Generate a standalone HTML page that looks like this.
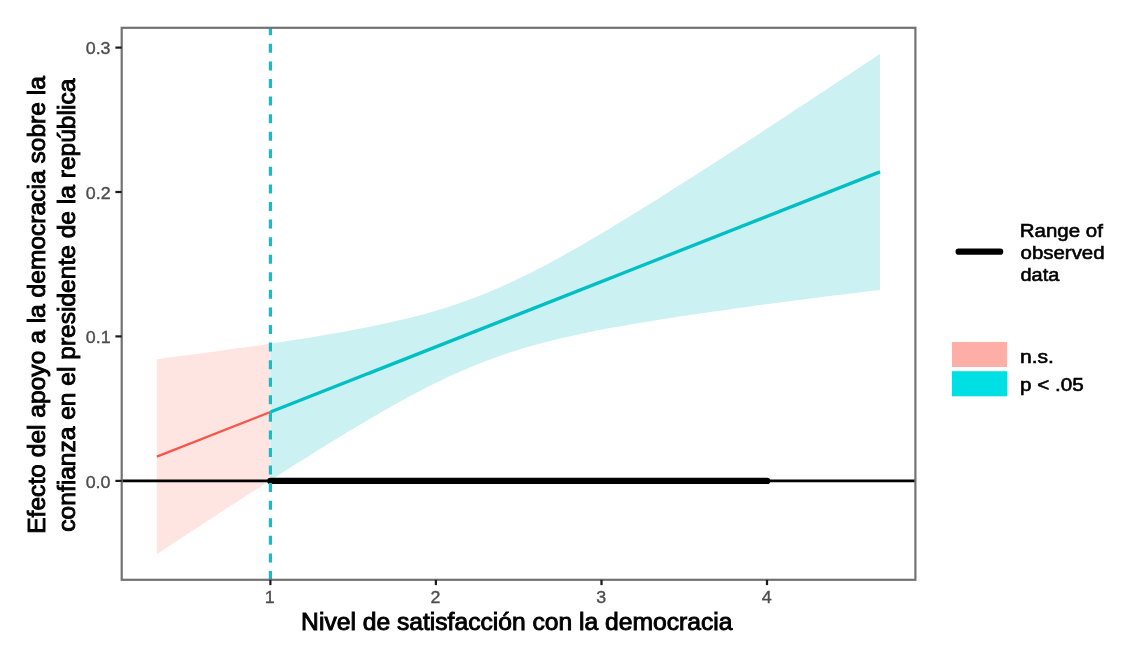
<!DOCTYPE html>
<html><head><meta charset="utf-8"><title>Plot</title>
<style>html,body{margin:0;padding:0;background:#fff;}body{width:1134px;height:663px;position:relative;overflow:hidden;font-family:"Liberation Sans",sans-serif}</style></head>
<body>
<svg width="1134" height="663" viewBox="0 0 1134 663" style="position:absolute;left:0;top:0;font-family:'Liberation Sans',sans-serif">
<defs><filter id="soft" filterUnits="userSpaceOnUse" x="0" y="0" width="1134" height="663"><feGaussianBlur stdDeviation="0.45"/></filter></defs>
<rect width="1134" height="663" fill="#fff"/>
<g filter="url(#soft)">
<path d="M156.8,359.2 L162.8,358.4 L168.8,357.6 L174.7,356.8 L180.7,356.1 L186.7,355.3 L192.7,354.5 L198.7,353.7 L204.6,352.9 L210.6,352.1 L216.6,351.3 L222.6,350.5 L228.5,349.6 L234.5,348.8 L240.5,348.0 L246.5,347.1 L252.5,346.3 L258.4,345.4 L264.4,344.5 L270.4,343.6 L270.4,480.3 L264.4,484.1 L258.4,487.9 L252.5,491.8 L246.5,495.6 L240.5,499.5 L234.5,503.4 L228.5,507.3 L222.6,511.1 L216.6,515.0 L210.6,518.9 L204.6,522.8 L198.7,526.7 L192.7,530.6 L186.7,534.6 L180.7,538.5 L174.7,542.4 L168.8,546.3 L162.8,550.3 L156.8,554.2Z" fill="#fee5e2"/>
<path d="M270.4,343.6 L278.1,342.5 L285.8,341.3 L293.5,340.1 L301.3,338.9 L309.0,337.7 L316.7,336.4 L324.4,335.1 L332.1,333.8 L339.8,332.4 L347.6,331.0 L355.3,329.6 L363.0,328.1 L370.7,326.6 L378.4,325.0 L386.1,323.3 L393.9,321.6 L401.6,319.8 L409.3,317.9 L417.0,315.9 L424.7,313.9 L432.4,311.7 L440.2,309.4 L447.9,307.0 L455.6,304.5 L463.3,301.8 L471.0,299.0 L478.7,296.1 L486.5,293.0 L494.2,289.8 L501.9,286.4 L509.6,282.9 L517.3,279.3 L525.0,275.5 L532.8,271.7 L540.5,267.7 L548.2,263.7 L555.9,259.5 L563.6,255.2 L571.3,250.9 L579.1,246.5 L586.8,242.1 L594.5,237.6 L602.2,233.0 L609.9,228.4 L617.6,223.7 L625.4,219.0 L633.1,214.3 L640.8,209.5 L648.5,204.7 L656.2,199.9 L663.9,195.0 L671.7,190.1 L679.4,185.2 L687.1,180.3 L694.8,175.4 L702.5,170.4 L710.2,165.5 L718.0,160.5 L725.7,155.5 L733.4,150.5 L741.1,145.5 L748.8,140.4 L756.5,135.4 L764.3,130.3 L772.0,125.3 L779.7,120.2 L787.4,115.2 L795.1,110.1 L802.8,105.0 L810.6,99.9 L818.3,94.8 L826.0,89.7 L833.7,84.6 L841.4,79.5 L849.1,74.4 L856.9,69.3 L864.6,64.2 L872.3,59.0 L880.0,53.9 L880.0,289.9 L872.3,290.8 L864.6,291.8 L856.9,292.7 L849.1,293.7 L841.4,294.7 L833.7,295.6 L826.0,296.6 L818.3,297.6 L810.6,298.6 L802.8,299.6 L795.1,300.6 L787.4,301.6 L779.7,302.6 L772.0,303.6 L764.3,304.6 L756.5,305.6 L748.8,306.7 L741.1,307.7 L733.4,308.8 L725.7,309.9 L718.0,311.0 L710.2,312.1 L702.5,313.2 L694.8,314.3 L687.1,315.4 L679.4,316.6 L671.7,317.8 L663.9,319.0 L656.2,320.2 L648.5,321.4 L640.8,322.7 L633.1,324.0 L625.4,325.4 L617.6,326.7 L609.9,328.1 L602.2,329.6 L594.5,331.1 L586.8,332.7 L579.1,334.3 L571.3,336.0 L563.6,337.7 L555.9,339.6 L548.2,341.5 L540.5,343.5 L532.8,345.6 L525.0,347.8 L517.3,350.2 L509.6,352.6 L501.9,355.2 L494.2,357.9 L486.5,360.8 L478.7,363.8 L471.0,366.9 L463.3,370.2 L455.6,373.6 L447.9,377.1 L440.2,380.8 L432.4,384.6 L424.7,388.5 L417.0,392.5 L409.3,396.6 L401.6,400.8 L393.9,405.1 L386.1,409.4 L378.4,413.9 L370.7,418.3 L363.0,422.9 L355.3,427.5 L347.6,432.1 L339.8,436.8 L332.1,441.5 L324.4,446.3 L316.7,451.0 L309.0,455.9 L301.3,460.7 L293.5,465.6 L285.8,470.4 L278.1,475.4 L270.4,480.3Z" fill="#ccf1f2"/>
<line x1="121.7" x2="915.4" y1="480.9" y2="480.9" stroke="#000" stroke-width="2.7"/>
<line x1="156.8" y1="456.7" x2="270.4" y2="412.0" stroke="#f9564a" stroke-width="2.4"/>
<line x1="270.4" y1="412.0" x2="880.0" y2="171.9" stroke="#00bfc4" stroke-width="3.4"/>
<line x1="270.4" x2="767.05" y1="480.9" y2="480.9" stroke="#000" stroke-width="6.4" stroke-linecap="round"/>
<line x1="270.4" x2="270.4" y1="27.8" y2="579.8" stroke="#00c6ce" stroke-width="3.2" stroke-dasharray="9 8.57" stroke-dashoffset="1.5"/>
<rect x="121.7" y="27.8" width="793.6999999999999" height="552.0" fill="none" stroke="#727272" stroke-width="2.2"/>
<line x1="115.4" x2="121.7" y1="480.9" y2="480.9" stroke="#1a1a1a" stroke-width="2.2"/>
<text transform="translate(85.63,487.70) scale(1.0400,1.0)" font-size="17.2" fill="#4d4d4d" stroke="#4d4d4d" stroke-width="0.35">0.0</text>
<line x1="115.4" x2="121.7" y1="336.4" y2="336.4" stroke="#1a1a1a" stroke-width="2.2"/>
<text transform="translate(85.81,343.25) scale(1.0400,1.0)" font-size="17.2" fill="#4d4d4d" stroke="#4d4d4d" stroke-width="0.35">0.1</text>
<line x1="115.4" x2="121.7" y1="192.0" y2="192.0" stroke="#1a1a1a" stroke-width="2.2"/>
<text transform="translate(85.86,198.80) scale(1.0400,1.0)" font-size="17.2" fill="#4d4d4d" stroke="#4d4d4d" stroke-width="0.35">0.2</text>
<line x1="115.4" x2="121.7" y1="47.6" y2="47.6" stroke="#1a1a1a" stroke-width="2.2"/>
<text transform="translate(85.72,54.35) scale(1.0400,1.0)" font-size="17.2" fill="#4d4d4d" stroke="#4d4d4d" stroke-width="0.35">0.3</text>
<line x1="270.4" x2="270.4" y1="579.8" y2="585.0999999999999" stroke="#1a1a1a" stroke-width="2.2"/>
<text transform="translate(264.79,603.20) scale(1.0400,1.0)" font-size="17.2" fill="#4d4d4d" stroke="#4d4d4d" stroke-width="0.35">1</text>
<line x1="435.9" x2="435.9" y1="579.8" y2="585.0999999999999" stroke="#1a1a1a" stroke-width="2.2"/>
<text transform="translate(430.59,603.20) scale(1.0400,1.0)" font-size="17.2" fill="#4d4d4d" stroke="#4d4d4d" stroke-width="0.35">2</text>
<line x1="601.5" x2="601.5" y1="579.8" y2="585.0999999999999" stroke="#1a1a1a" stroke-width="2.2"/>
<text transform="translate(596.18,603.20) scale(1.0400,1.0)" font-size="17.2" fill="#4d4d4d" stroke="#4d4d4d" stroke-width="0.35">3</text>
<line x1="767.0" x2="767.0" y1="579.8" y2="585.0999999999999" stroke="#1a1a1a" stroke-width="2.2"/>
<text transform="translate(761.73,603.20) scale(1.0400,1.0)" font-size="17.2" fill="#4d4d4d" stroke="#4d4d4d" stroke-width="0.35">4</text>
<text transform="translate(301.12,630.00) scale(1.0622,1.0)" font-size="23.2" fill="#000" stroke="#000" stroke-width="0.9">Nivel de satisfacción con la democracia</text>
<text transform="translate(44.70,533.78) rotate(-90) scale(1.0597,1.03)" font-size="23.2" fill="#000" stroke="#000" stroke-width="0.9">Efecto del apoyo a la democracia sobre la</text>
<text transform="translate(74.50,531.69) rotate(-90) scale(1.0582,1.03)" font-size="23.2" fill="#000" stroke="#000" stroke-width="0.9">confianza en el presidente de la república</text>
<line x1="958.6" x2="1000.2" y1="251.7" y2="251.7" stroke="#000" stroke-width="6.2" stroke-linecap="round"/>
<text transform="translate(1019.71,237.20) scale(1.0899,1.0)" font-size="18.8" fill="#000" stroke="#000" stroke-width="0.6">Range of</text>
<text transform="translate(1020.53,259.20) scale(1.0871,1.0)" font-size="18.8" fill="#000" stroke="#000" stroke-width="0.6">observed</text>
<text transform="translate(1020.55,281.20) scale(1.0596,1.0)" font-size="18.8" fill="#000" stroke="#000" stroke-width="0.6">data</text>
<text transform="translate(1019.98,362.60) scale(1.1223,1.0)" font-size="18.8" fill="#000" stroke="#000" stroke-width="0.6">n.s.</text>
<text transform="translate(1020.06,391.40) scale(1.0977,1.0)" font-size="18.8" fill="#000" stroke="#000" stroke-width="0.6">p &lt; .05</text>
<rect x="952" y="342" width="55" height="25" fill="#fdaea7"/>
<rect x="952" y="371.2" width="55" height="25.1" fill="#00dfe3"/>
</g>
</svg>
</body></html>
